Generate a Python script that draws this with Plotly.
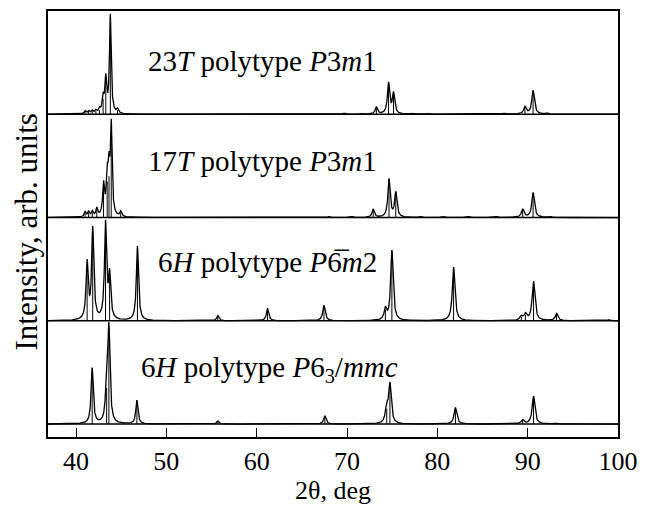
import numpy as np
import plotly.graph_objects as go

# ---- data (peak positions in 2theta deg, relative intensities, HWHM) ----
pos_23T = [41.0, 41.4, 41.8, 42.2, 42.6, 43.0, 43.3, 43.8, 44.6, 69.7, 71.6, 73.25, 74.6, 75.15, 77.2, 79.0, 87.4, 89.7, 90.6, 92.1]
int_23T = [0.03, 0.03, 0.03, 0.03, 0.04, 0.15, 0.33, 0.95, 0.04, 0.01, 0.01, 0.07, 0.30, 0.20, 0.01, 0.01, 0.01, 0.07, 0.23, 0.01]
wid_23T = [0.12, 0.12, 0.12, 0.12, 0.12, 0.12, 0.12, 0.11, 0.12, 0.15, 0.15, 0.15, 0.15, 0.15, 0.15, 0.15, 0.17, 0.17, 0.17, 0.17]

pos_17T = [41.0, 41.4, 41.8, 42.3, 43.05, 43.45, 43.65, 43.9, 44.95, 68.0, 70.5, 72.9, 74.65, 75.4, 78.1, 80.7, 83.5, 86.5, 89.45, 90.6, 92.5]
int_17T = [0.05, 0.05, 0.05, 0.08, 0.30, 0.35, 0.40, 0.85, 0.05, 0.01, 0.01, 0.08, 0.37, 0.24, 0.01, 0.01, 0.01, 0.01, 0.08, 0.24, 0.01]
wid_17T = [0.12, 0.12, 0.12, 0.12, 0.12, 0.12, 0.12, 0.11, 0.12, 0.15, 0.15, 0.15, 0.15, 0.15, 0.15, 0.15, 0.15, 0.17, 0.17, 0.17, 0.17]

pos_6Hm2 = [41.23, 41.85, 43.27, 43.72, 46.8, 55.7, 61.2, 67.45, 74.25, 74.97, 81.8, 89.3, 89.75, 90.65, 93.2, 99.0]
int_6Hm2 = [0.55, 0.88, 0.93, 0.42, 0.72, 0.05, 0.12, 0.15, 0.11, 0.68, 0.52, 0.04, 0.06, 0.38, 0.07, 0.01]
wid_6Hm2 = [0.14, 0.14, 0.14, 0.14, 0.14, 0.15, 0.15, 0.16, 0.16, 0.16, 0.17, 0.18, 0.18, 0.18, 0.18, 0.18]

pos_6Hmmc = [41.79, 43.39, 43.64, 46.74, 55.7, 67.55, 74.4, 74.75, 82.0, 89.45, 90.65, 92.9]
int_6Hmmc = [0.54, 0.35, 0.90, 0.23, 0.03, 0.08, 0.15, 0.38, 0.16, 0.04, 0.27, 0.01]
wid_6Hmmc = [0.14, 0.14, 0.14, 0.14, 0.15, 0.16, 0.17, 0.17, 0.18, 0.18, 0.18, 0.18]

panel_offsets = [3, 2, 1, 0]
panel_labels = [
    "23<i>T</i> polytype <i>P</i>3<i>m</i>1",
    "17<i>T</i> polytype <i>P</i>3<i>m</i>1",
    "6<i>H</i> polytype <i>P</i>6\u0305<i>m</i>2",
    "6<i>H</i> polytype <i>P</i>6<sub>3</sub>/<i>mmc</i>",
]
label_x = [47.8, 47.8, 48.8, 47.0]
label_y = [3.52, 2.55, 1.57, 0.53]

x_ticks = [40, 50, 60, 70, 80, 90, 100]

panels = [
    (pos_23T, int_23T, wid_23T),
    (pos_17T, int_17T, wid_17T),
    (pos_6Hm2, int_6Hm2, wid_6Hm2),
    (pos_6Hmmc, int_6Hmmc, wid_6Hmmc),
]

FONT = "Liberation Serif"
x = np.arange(36.9, 100.001, 0.01)

fig = go.Figure()
for (pos, inten, wid), off in zip(panels, panel_offsets):
    prof = np.zeros_like(x)
    for p, h, g in zip(pos, inten, wid):
        prof += h * g**2 / ((x - p) ** 2 + g**2)
    fig.add_trace(go.Scatter(x=x, y=prof + off, mode="lines",
                             line=dict(color="black", width=1.3),
                             hoverinfo="skip", showlegend=False))
    sx, sy = [], []
    for p, h in zip(pos, inten):
        sx += [p, p, None]
        sy += [off, off + h, None]
    fig.add_trace(go.Scatter(x=sx, y=sy, mode="lines",
                             line=dict(color="black", width=1.0),
                             hoverinfo="skip", showlegend=False))

for off in panel_offsets:
    fig.add_shape(type="line", xref="paper", x0=0, x1=1, yref="y", y0=off, y1=off,
                  line=dict(color="black", width=1.5))

for txt, lx, ly in zip(panel_labels, label_x, label_y):
    fig.add_annotation(x=lx, y=ly, xref="x", yref="y", text=txt, showarrow=False,
                       xanchor="left", yanchor="middle",
                       font=dict(family=FONT, size=29, color="black"))

fig.add_annotation(x=0, xref="paper", xshift=-21, y=0.48, yref="paper",
                   text="Intensity, arb. units", textangle=-90, showarrow=False,
                   xanchor="center", yanchor="middle",
                   font=dict(family=FONT, size=31, color="black"))
fig.add_annotation(x=0.5, xref="paper", y=-0.126, yref="paper",
                   text="2θ, deg", showarrow=False, xanchor="center", yanchor="middle",
                   font=dict(family=FONT, size=26, color="black"))

# page body has an 8 px margin, so the figure is 8 px smaller than the window
fig.update_layout(
    width=637, height=497,
    margin=dict(l=40, r=27, t=1, b=68),
    paper_bgcolor="white", plot_bgcolor="white",
    xaxis=dict(range=[36.9, 100], tickvals=x_ticks, ticks="inside", ticklen=9,
               tickwidth=1.2, tickcolor="black", showline=True, mirror=True,
               linecolor="black", linewidth=1.8, showgrid=False, zeroline=False,
               tickfont=dict(family=FONT, size=26, color="black")),
    yaxis=dict(range=[-0.125, 4.0], showticklabels=False, ticks="",
               showline=True, mirror=True, linecolor="black", linewidth=1.8,
               showgrid=False, zeroline=False),
)

fig.write_html("out.html")
